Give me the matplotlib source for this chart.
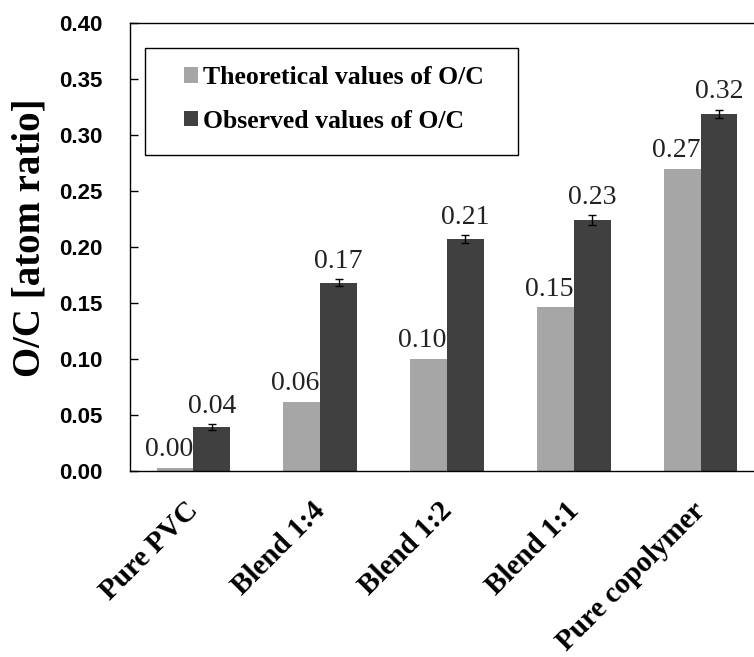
import numpy as np
import matplotlib.pyplot as plt
import matplotlib.transforms as mtransforms
from matplotlib.patches import Rectangle

# data
samples = ["Pure PVC", "Blend 1:4", "Blend 1:2", "Blend 1:1", "Pure copolymer"]
theoretical = [0.003, 0.062, 0.100, 0.146, 0.270]
observed = [0.039, 0.168, 0.207, 0.224, 0.319]
observed_err = [0.0027, 0.0030, 0.0035, 0.0045, 0.0037]
theo_labels = ["0.00", "0.06", "0.10", "0.15", "0.27"]
obs_labels = ["0.04", "0.17", "0.21", "0.23", "0.32"]

serif = "Liberation Serif"
sans = "Liberation Sans"

fig = plt.figure(figsize=(7.54, 6.57), dpi=100)
ax = fig.add_axes([130/754, (657-471)/657, (764-130)/754, (471-23)/657])

x = np.arange(len(samples))
w = 0.29
ax.bar(x - w/2, theoretical, w, color="#a6a6a6", label="Theoretical values of O/C")
ax.bar(x + w/2, observed, w, color="#404040", label="Observed values of O/C",
       yerr=observed_err, error_kw=dict(ecolor="black", elinewidth=1.0, capsize=3, capthick=1.0))

for i in range(len(samples)):
    ax.annotate(theo_labels[i], (x[i] - w/2 - 0.05, theoretical[i]), xytext=(0, 4),
                textcoords="offset points", ha="center", va="bottom",
                fontsize=20, family=serif, color="#222222")
    ax.annotate(obs_labels[i], (x[i] + w/2, observed[i] + observed_err[i]), xytext=(0, 4),
                textcoords="offset points", ha="center", va="bottom",
                fontsize=20, family=serif, color="#222222")

ax.set_xlim(-0.5, 4.5)
ax.set_ylim(0, 0.40)
ax.set_yticks(np.arange(0, 0.401, 0.05))
ax.set_yticklabels(["%.2f" % v for v in np.arange(0, 0.401, 0.05)],
                   fontsize=16, fontweight="bold", family=sans)
ax.tick_params(axis="y", direction="in", length=6, pad=20, width=1)
ax.tick_params(axis="x", length=0, pad=10)
ax.set_xticks(x)
ax.set_xticklabels(samples, rotation=45, ha="right", rotation_mode="anchor",
                   fontsize=21, fontweight="bold", family=serif)
shift = mtransforms.ScaledTranslation(-9/100, -12/100, fig.dpi_scale_trans)
for lab in ax.get_xticklabels():
    lab.set_transform(lab.get_transform() + shift)
for s in ax.spines.values():
    s.set_linewidth(1.0)

ax.set_ylabel("O/C [atom ratio]", fontsize=28, fontweight="bold", family=serif)
ax.yaxis.set_label_coords(-0.129, 0.52)

# legend box drawn separately (wide side padding like the original)
ax.add_patch(Rectangle((0.0237, 0.705), 0.588, 0.239, transform=ax.transAxes,
                       fill=False, edgecolor="black", linewidth=1.0, zorder=5))
leg = ax.legend(loc="upper left", bbox_to_anchor=(0.085, 0.904), frameon=False,
                prop=dict(family=serif, weight="bold", size=18.5), handlelength=0.55, handleheight=0.55,
                handletextpad=0.2, labelspacing=0.8, borderpad=0, borderaxespad=0)

fig.savefig("out.png", dpi=100)
